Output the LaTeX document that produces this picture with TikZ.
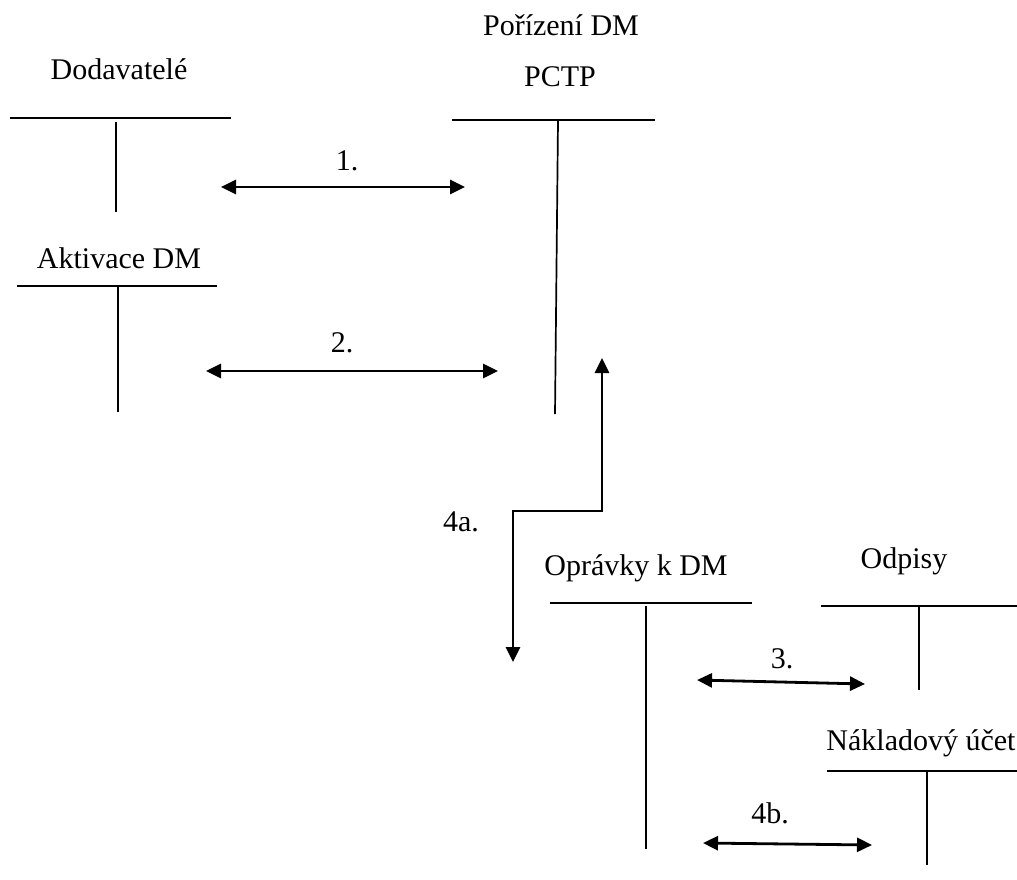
\documentclass[tikz,border=0pt]{standalone}
\usepackage{fontspec}
\setmainfont{Liberation Serif}
\usetikzlibrary{arrows.meta}
\begin{document}
\begin{tikzpicture}[x=1pt,y=-1pt,
  lbl/.style={font=\fontsize{30}{36}\selectfont, inner sep=0pt, anchor=base},
  tline/.style={line width=1.7pt},
  flow/.style={line width=2.8pt, line join=miter},
  twotip/.style={{Triangle[length=15pt,width=14pt]}-{Triangle[length=15pt,width=14pt]}}]
\useasboundingbox (0,0) rectangle (1017,879);

% account titles
\node[lbl] (dod)  at (119,79)  {Dodavatelé};
\node[lbl] (akt)  at (119,268) {Aktivace DM};
\node[lbl] (por)  at (561,35)  {Pořízení DM};
\node[lbl] (pctp) at (560,86)  {PCTP};
\node[lbl] (opr)  at (636,575) {Oprávky k DM};
\node[lbl] (odp)  at (904,568) {Odpisy};
\node[lbl] (nak)  at (921,750) {Nákladový účet};

% T-accounts
\coordinate (dodL) at (10,118);  \coordinate (dodR) at (231,118);
\coordinate (dodT) at (116,122); \coordinate (dodB) at (116,212);
\coordinate (aktL) at (17,286);  \coordinate (aktR) at (217,286);
\coordinate (aktT) at (118,286); \coordinate (aktB) at (118,412);
\coordinate (porL) at (452,120); \coordinate (porR) at (655,120);
\coordinate (porT) at (558,121); \coordinate (porB) at (555,414);
\coordinate (oprL) at (550,603); \coordinate (oprR) at (752,603);
\coordinate (oprT) at (646,606); \coordinate (oprB) at (646,849);
\coordinate (odpL) at (821,606); \coordinate (odpR) at (1017,606);
\coordinate (odpT) at (919,607); \coordinate (odpB) at (919,690);
\coordinate (nakL) at (827,771); \coordinate (nakR) at (1017,771);
\coordinate (nakT) at (927,772); \coordinate (nakB) at (927,865);

\foreach \a in {dod,akt,por,opr,odp,nak}{
  \draw[tline] (\a L) -- (\a R);
  \draw[tline] (\a T) -- (\a B);
}

% posting arrows
\coordinate (a1L) at (221,187); \coordinate (a1R) at (465,187);
\coordinate (a2L) at (206,371); \coordinate (a2R) at (498,371);
\coordinate (a3L) at (697,680); \coordinate (a3R) at (865,684);
\coordinate (a4L) at (703,843); \coordinate (a4R) at (872,845);
\draw[flow,twotip] (a1L) -- (a1R);
\draw[flow,twotip] (a2L) -- (a2R);
\draw[flow,twotip] (a3L) -- (a3R);
\draw[flow,twotip] (a4L) -- (a4R);

% stepped arrow 4a
\coordinate (s1) at (602,511);
\coordinate (s2) at (513,511);
\coordinate (sUp) at (602,358);
\coordinate (sDn) at (513,662);
\draw[flow,twotip] (sUp) -- (s1) -- (s2) -- (sDn);

% arrow labels
\node[lbl] (n1)  at (347,170) {1.};
\node[lbl] (n2)  at (342,352) {2.};
\node[lbl] (n3)  at (782,668) {3.};
\node[lbl] (n4a) at (461,531) {4a.};
\node[lbl] (n4b) at (770,823) {4b.};
\end{tikzpicture}
\end{document}
